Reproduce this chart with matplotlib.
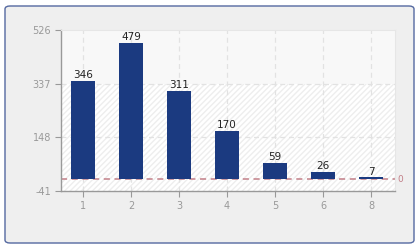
import matplotlib
matplotlib.use("Agg")
import matplotlib.pyplot as plt
from matplotlib.patches import FancyBboxPatch, Rectangle

categories = ["1", "2", "3", "4", "5", "6", "8"]
values = [346, 479, 311, 170, 59, 26, 7]
y_ticks = [-41, 148, 337, 526]

fig = plt.figure(figsize=(4.2, 2.5), dpi=100)
fig.patch.set_facecolor("white")

# rounded outer frame
frame = FancyBboxPatch((5 / 420, 7 / 250), 409 / 420, 237 / 250,
                       boxstyle="round,pad=0,rounding_size=0.012",
                       transform=fig.transFigure, facecolor="#efefef",
                       edgecolor="#5468a0", linewidth=1.0, zorder=-5)
fig.patches.append(frame)

ax = fig.add_axes([61 / 420, 1 - 191 / 250, 334 / 420, 161 / 250])
ax.set_zorder(1)
ax.set_facecolor("white")

x = list(range(len(categories)))
ax.set_xlim(-0.46, len(categories) - 0.5)
ax.set_ylim(y_ticks[0], y_ticks[-1])

# faint hatched background
ax.add_patch(Rectangle((-1, y_ticks[0]), 10, y_ticks[-1] - y_ticks[0],
                       facecolor="none", edgecolor="#eeeeee", hatch="//////",
                       linewidth=0, zorder=0))
ax.axhspan(y_ticks[2], y_ticks[3], color="#f8f8f8", zorder=0, linewidth=0)

for yt in y_ticks[1:-1]:
    ax.axhline(yt, color="#e2e2e2", linestyle=(0, (4, 3)), linewidth=0.9, zorder=1)
for xi in x:
    ax.axvline(xi, color="#e2e2e2", linestyle=(0, (4, 3)), linewidth=0.9, zorder=1)

bars = ax.bar(x, values, width=0.5, color="#1b3a80", zorder=3)
for xi, v in zip(x, values):
    ax.text(xi, v + 3, str(v), ha="center", va="bottom", fontsize=7.5,
            color="#222222", zorder=4)

ax.axhline(0, color="#c27f88", linestyle=(0, (4, 3)), linewidth=1.1, zorder=2)
ax.text(1.006, 0, "0", transform=ax.get_yaxis_transform(), ha="left",
        va="center", fontsize=6.5, color="#c27f88")

ax.set_xticks(x)
ax.set_xticklabels(categories)
ax.set_yticks(y_ticks)
ax.set_yticklabels([str(t) for t in y_ticks])
ax.tick_params(colors="#999999", labelsize=7, length=4, width=0.8, pad=3)
ax.tick_params(axis="x", labelcolor="#999999")

for side in ["top", "right"]:
    ax.spines[side].set_color("#e6e6e6")
    ax.spines[side].set_linewidth(0.8)
for side in ["left", "bottom"]:
    ax.spines[side].set_color("#999999")
    ax.spines[side].set_linewidth(1.0)

fig.savefig("out.png", dpi=100)
